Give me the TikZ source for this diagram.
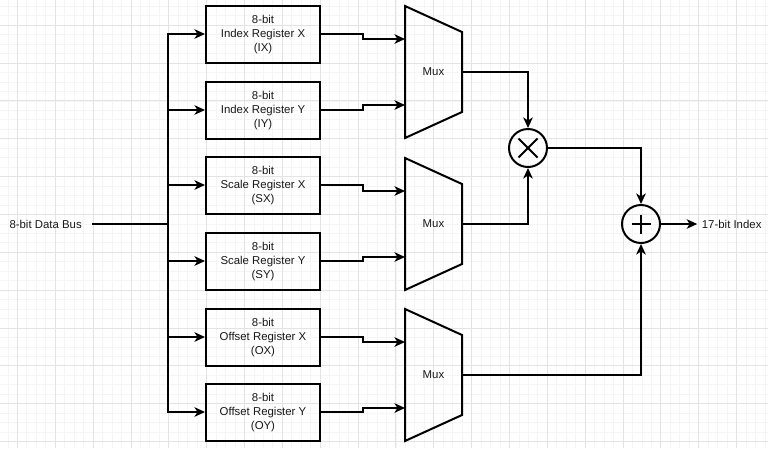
\documentclass[tikz,border=0pt]{standalone}
\usepackage{fontspec}
\setmainfont{Liberation Sans}
\usetikzlibrary{arrows.meta,calc}
\begin{document}
\begin{tikzpicture}[x=1pt,y=-1pt,
  minor/.style={draw=black!4, line width=0.8pt},
  major/.style={draw=black!11, line width=0.9pt},
  wire/.style={line width=2pt, draw=black},
  arr/.style={wire, -{Stealth[length=10.5pt,width=9.5pt,inset=3pt]}},
  reg/.style={draw, line width=2pt, minimum width=114pt, minimum height=57pt, inner sep=0pt, align=center, text=black!90, font=\fontsize{11.4}{14.2}\selectfont},
  lbl/.style={inner sep=0pt, text=black!90, font=\fontsize{11.4}{14}\selectfont},
  muxshape/.style={line width=2pt, draw=black, line join=miter},
  op/.style={draw, circle, line width=2pt, minimum size=38pt, inner sep=0pt}]
\useasboundingbox[fill=white] (0,0) rectangle (768,448);
% grid
\foreach \i in {0,...,80} {\draw[minor] ({7.94+9.4625*\i},0) -- ({7.94+9.4625*\i},448);}
\foreach \i in {0,...,46} {\draw[minor] (0,{6.275+9.4625*\i}) -- (768,{6.275+9.4625*\i});}
\foreach \i in {0,...,19} {\draw[major] ({17.4+37.85*\i},0) -- ({17.4+37.85*\i},448);}
\foreach \i in {0,...,11} {\draw[major] (0,{25.2+37.85*\i}) -- (768,{25.2+37.85*\i});}
% registers
\node[reg] (ix) at (263,34.5) {8-bit\\Index Register X\\(IX)};
\node[reg] (iy) at (263,110.5) {8-bit\\Index Register Y\\(IY)};
\node[reg] (sx) at (263,185.5) {8-bit\\Scale Register X\\(SX)};
\node[reg] (sy) at (263,261.5) {8-bit\\Scale Register Y\\(SY)};
\node[reg] (ox) at (263,337.5) {8-bit\\Offset Register X\\(OX)};
\node[reg] (oy) at (263,412.5) {8-bit\\Offset Register Y\\(OY)};
% muxes
\foreach \n/\yc in {m1/72, m2/224, m3/375} {
  \draw[muxshape] (405,\yc-66) -- (462,\yc-40) -- (462,\yc+40) -- (405,\yc+66) -- cycle;
  \node[lbl] (\n) at (433.5,\yc) {Mux};
  \coordinate (\n-a) at (405,\yc-33);
  \coordinate (\n-b) at (405,\yc+33);
  \coordinate (\n-o) at (462,\yc);
}
% operators
\node[op] (mul) at (528,148) {};
\draw[wire] ([shift={(-9.5,-9.5)}]mul.center) -- ([shift={(9.5,9.5)}]mul.center);
\draw[wire] ([shift={(-9.5,9.5)}]mul.center) -- ([shift={(9.5,-9.5)}]mul.center);
\node[op] (add) at (641,224) {};
\draw[wire] ([xshift=-9.5pt]add.center) -- ([xshift=9.5pt]add.center);
\draw[wire] ([yshift=-9.5pt]add.center) -- ([yshift=9.5pt]add.center);
% labels
\node[lbl, anchor=west] (dbus) at (9.3,224) {8-bit Data Bus};
\node[lbl, anchor=west] (out) at (701.7,224) {17-bit Index};
% bus
\coordinate (busin) at (92,224);
\coordinate (bus) at (168,224);
\draw[wire] (busin) -- (bus);
\draw[wire, line cap=rect] ([yshift=0.5pt]bus |- ix.west) -- ([yshift=0.5pt]bus |- oy.west);
\foreach \r in {ix,iy,sx,sy,ox,oy} {\draw[arr] ([yshift=0.5pt]bus |- \r.west) -- ([yshift=0.5pt]\r.west);}
% register outputs to muxes
\draw[arr] ([yshift=0.5pt]ix.east) -- ++(42,0) |- (m1-a);
\draw[arr] ([yshift=0.5pt]iy.east) -- ++(42,0) |- (m1-b);
\draw[arr] ([yshift=0.5pt]sx.east) -- ++(42,0) |- (m2-a);
\draw[arr] ([yshift=0.5pt]sy.east) -- ++(42,0) |- (m2-b);
\draw[arr] ([yshift=0.5pt]ox.east) -- ++(42,0) |- (m3-a);
\draw[arr] ([yshift=0.5pt]oy.east) -- ++(42,0) |- (m3-b);
% mux outputs
\draw[arr] (m1-o) -| (mul.north);
\draw[arr] (m2-o) -| (mul.south);
\draw[arr] (mul.east) -| (add.north);
\draw[arr] (m3-o) -| (add.south);
\draw[arr] (add.east) -- ([xshift=-4.5pt]out.west);
\end{tikzpicture}
\end{document}
